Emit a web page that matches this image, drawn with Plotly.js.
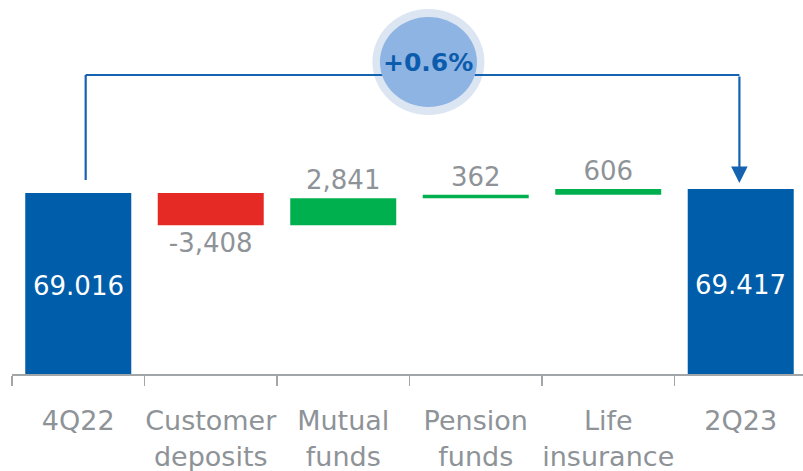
<!DOCTYPE html>
<html>
<head>
<meta charset="utf-8">
<script src="https://cdn.plot.ly/plotly-3.0.1.min.js"></script>
<style>html,body{margin:0;padding:0;background:#fff;}#chart{width:803px;height:471px;}</style>
</head>
<body>
<div id="chart"></div>
<script>
// ---- data ----
const categories = ["4Q22", "Customer<br>deposits", "Mutual<br>funds", "Pension<br>funds", "Life<br>insurance", "2Q23"];
const measures = ["absolute", "relative", "relative", "relative", "relative", "total"];
const values = [69016, -3408, 2841, 362, 606, 69417];
const valueLabels = ["69.016", "-3,408", "2,841", "362", "606", "69.417"];
const changeLabel = "+0.6%";

// ---- styles ----
const BLUE = "#005DA9";
const RED = "#E52A25";
const GREEN = "#00B04F";
const GRAY = "#8E9398";
const LINE = "#1562B0";
const FONT = "DejaVu Sans";

const yMin = 50000, yMax = 89270;
const bracketY = 81395, leftBottomY = 70370, arrowTipY = 70055, circleY = 82760;
const leftX = 0.056, rightX = 4.99, circleX = 2.643;

const isRel = measures.map(m => m === "relative");

const trace = {
  type: "waterfall",
  x: categories,
  y: values,
  measure: measures,
  text: valueLabels.map((t, i) => (isRel[i] ? t : "")),
  textinfo: "text",
  textposition: "outside",
  outsidetextfont: {family: FONT, size: 26, color: GRAY},
  textfont: {family: FONT, size: 26, color: GRAY},
  constraintext: "none",
  cliponaxis: false,
  connector: {visible: false},
  increasing: {marker: {color: GREEN, line: {width: 0}}},
  decreasing: {marker: {color: RED, line: {width: 0}}},
  totals: {marker: {color: BLUE, line: {width: 0}}},
  hoverinfo: "skip"
};

// labels for the absolute/total bars, centred in the visible part of the bar
const totalAnnotations = values.map((v, i) => isRel[i] ? null : ({
  x: i, y: (yMin + v) / 2, xref: "x", yref: "y", text: valueLabels[i], showarrow: false,
  font: {family: FONT, size: 26, color: "#ffffff"}, xanchor: "center", yanchor: "middle", yshift: -3
})).filter(a => a);

const layout = {
  width: 803, height: 471,
  margin: {l: 12, r: 0, t: 0, b: 97},
  paper_bgcolor: "#ffffff",
  plot_bgcolor: "#ffffff",
  showlegend: false,
  bargap: 0.21,
  xaxis: {
    type: "category",
    range: [-0.5, 5.47],
    showgrid: false,
    zeroline: false,
    showline: true,
    linecolor: "#A3A6A9",
    linewidth: 2,
    ticks: "outside",
    tickson: "boundaries",
    ticklen: 10,
    tickwidth: 1.5,
    tickcolor: "#A3A6A9",
    tickangle: 0,
    ticklabelstandoff: 22,
    automargin: false,
    tickfont: {family: FONT, size: 27, color: GRAY},
    fixedrange: true
  },
  yaxis: {
    range: [yMin, yMax],
    visible: false,
    showgrid: false,
    zeroline: false,
    fixedrange: true
  },
  shapes: [
    {type: "circle", xref: "x", yref: "y", xsizemode: "pixel", ysizemode: "pixel",
     xanchor: circleX, yanchor: circleY, x0: -56, x1: 56, y0: -53, y1: 53,
     fillcolor: "#DCE5F2", line: {width: 0}, layer: "above"},
    {type: "line", xref: "x", yref: "y", x0: leftX, x1: leftX, y0: leftBottomY, y1: bracketY,
     line: {color: LINE, width: 2.2}, layer: "above"},
    {type: "line", xref: "x", yref: "y", x0: leftX, x1: rightX, y0: bracketY, y1: bracketY,
     line: {color: LINE, width: 2.2}, layer: "above"},
    {type: "circle", xref: "x", yref: "y", xsizemode: "pixel", ysizemode: "pixel",
     xanchor: circleX, yanchor: circleY, x0: -48.5, x1: 48.5, y0: -45, y1: 45,
     fillcolor: "#8EB4E3", line: {width: 0}, layer: "above"}
  ],
  annotations: [
    {x: rightX, y: arrowTipY, xref: "x", yref: "y", ax: rightX, ay: bracketY - 10, axref: "x", ayref: "y",
     text: "", showarrow: true, arrowhead: 2, arrowsize: 1.5, arrowwidth: 2.2, arrowcolor: LINE, standoff: 0},
    {x: circleX, y: circleY, xref: "x", yref: "y", text: "<b>" + changeLabel + "</b>", showarrow: false,
     font: {family: FONT, size: 25, color: "#0B5CAD"}, xanchor: "center", yanchor: "middle"}
  ].concat(totalAnnotations)
};

Plotly.newPlot("chart", [trace], layout, {staticPlot: true, displayModeBar: false});
</script>
</body>
</html>
